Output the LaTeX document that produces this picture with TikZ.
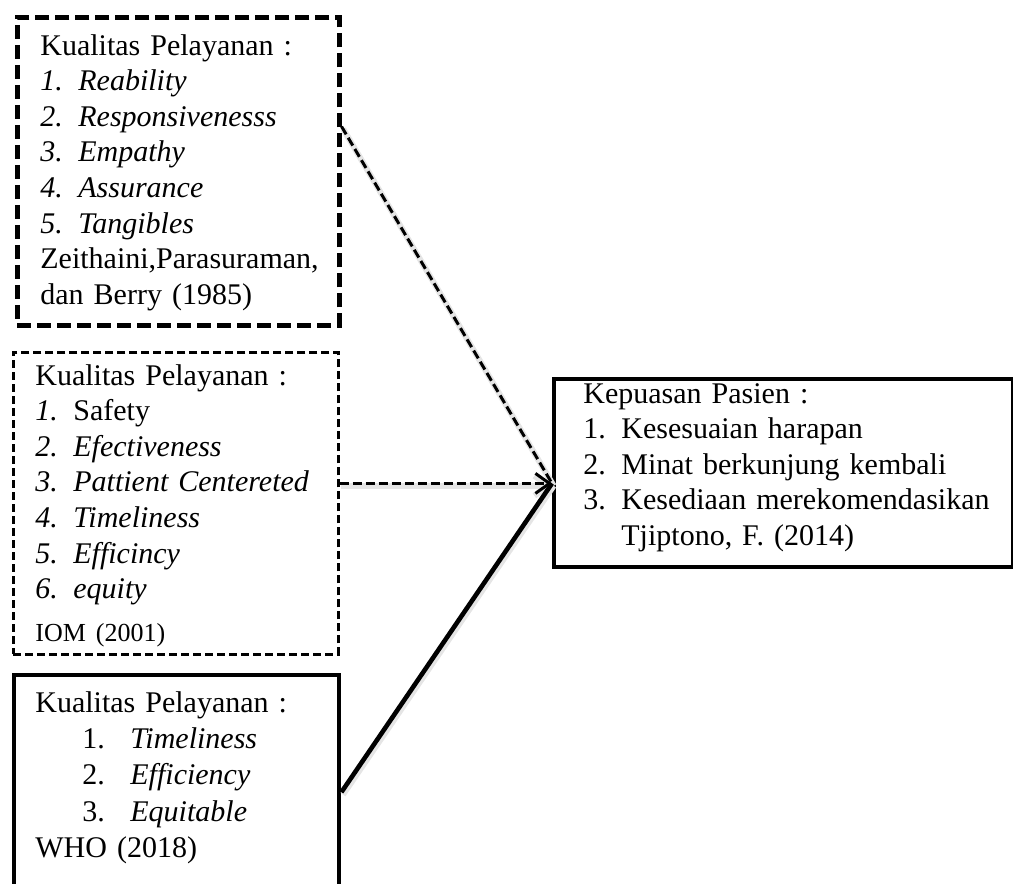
\documentclass[tikz,border=0pt]{standalone}
\usepackage{fontspec}
\setmainfont{Liberation Serif}
\usetikzlibrary{arrows.meta,positioning,calc}
\newcommand{\itm}[2]{\makebox[19pt][l]{#1}#2}
\begin{document}
\begin{tikzpicture}[x=0.5pt,y=-0.5pt,>=Stealth,
  dashbox/.style={draw,line width=2.3pt,dash pattern=on 7pt off 3pt,anchor=north west,inner sep=0pt},
  thinbox/.style={draw,line width=1.3pt,dash pattern=on 4pt off 2pt,anchor=north west,inner sep=0pt},
  solidbox/.style={draw,line width=2.2pt,anchor=north west,inner sep=0pt},
  txt/.style={anchor=base west,inner sep=0pt,align=left,font=\fontsize{15pt}{17.8pt}\selectfont},
  halo/.style={preaction={draw=black!10,line width=3pt,solid,transform canvas={shift={(0.8pt,-1.2pt)}}}},
  dasharrow/.style={halo,line width=1.5pt,dash pattern=on 4.5pt off 2pt},
  solidline/.style={halo,line width=2.3pt}]
  \useasboundingbox (0,0) rectangle (1013,884);

  % boxes
  \node[dashbox,minimum width=161pt,minimum height=154pt] (b1) at (15,15) {};
  \node[thinbox,minimum width=162.5pt,minimum height=151pt] (b2) at (12,351) {};
  \node[solidbox,minimum width=162.5pt,minimum height=113.5pt] (b3) at (12,673) {};
  \node[solidbox,minimum width=229.5pt,minimum height=94pt] (b4) at (552,377) {};

  % texts
  \node[txt,text width=150pt] (t1) at (40,55) {Kualitas Pelayanan :\\
    \textit{\itm{1.}{Reability}}\\
    \textit{\itm{2.}{Responsivenesss}}\\
    \textit{\itm{3.}{Empathy}}\\
    \textit{\itm{4.}{Assurance}}\\
    \textit{\itm{5.}{Tangibles}}\\
    Zeithaini,Parasuraman,\\
    dan Berry (1985)};
  \node[txt,text width=150pt] (t2) at (35,385) {Kualitas Pelayanan :\\
    \itm{\textit{1.}}{Safety}\\
    \textit{\itm{2.}{Efectiveness}}\\
    \textit{\itm{3.}{Pattient Centereted}}\\
    \textit{\itm{4.}{Timeliness}}\\
    \textit{\itm{5.}{Efficincy}}\\
    \textit{\itm{6.}{equity}}\\[3.7pt]
    {\fontsize{13pt}{15pt}\selectfont IOM (2001)}};
  \node[txt,text width=150pt,font=\fontsize{15pt}{18.2pt}\selectfont] (t3) at (35,712) {Kualitas Pelayanan :\\
    \hspace*{23.5pt}\makebox[24pt][l]{1.}\textit{Timeliness}\\
    \hspace*{23.5pt}\makebox[24pt][l]{2.}\textit{Efficiency}\\
    \hspace*{23.5pt}\makebox[24pt][l]{3.}\textit{Equitable}\\
    WHO (2018)};
  \node[txt,text width=215pt] (t4) at (583,403) {Kepuasan Pasien :\\
    \itm{1.}{Kesesuaian harapan}\\
    \itm{2.}{Minat berkunjung kembali}\\
    \itm{3.}{Kesediaan merekomendasikan}\\
    \itm{}{Tjiptono, F. (2014)}};

  % connectors
  \coordinate (tip) at ($(b4.north west)!0.553!(b4.south west)$);
  \draw[dasharrow] ($(b1.north east)!0.357!(b1.south east)$) -- (tip);
  \draw[dasharrow,-{Straight Barb[length=7pt,width=10pt]}] (b2.east |- tip) -- (tip);
  \draw[solidline] ($(b3.north east)!0.515!(b3.south east)$) -- (tip);
\end{tikzpicture}
\end{document}
